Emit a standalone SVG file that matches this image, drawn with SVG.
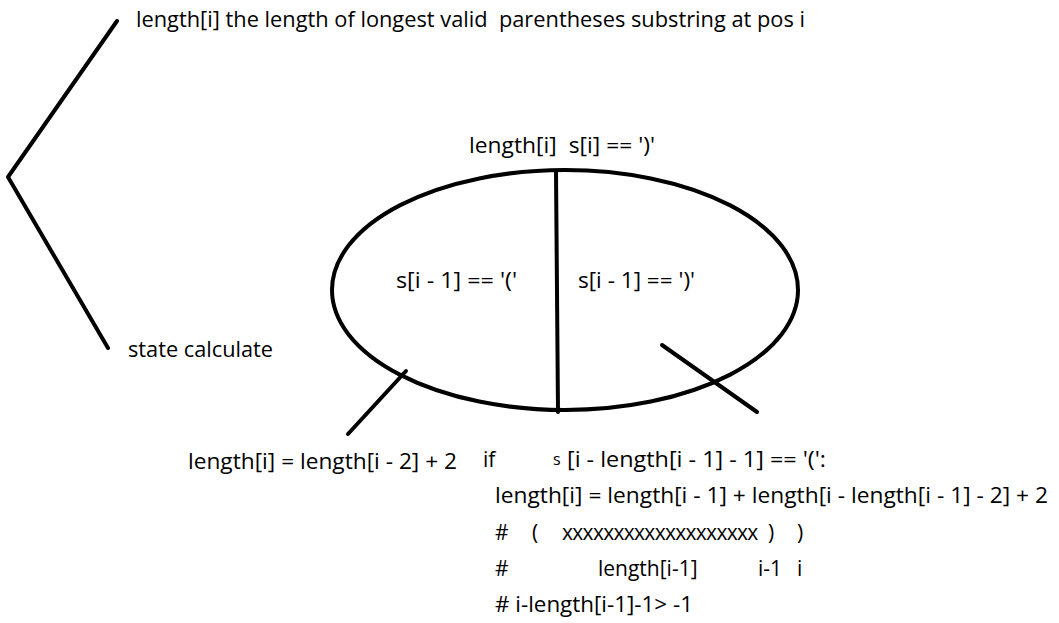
<svg xmlns="http://www.w3.org/2000/svg" width="1059" height="623" viewBox="0 0 1059 623">
<style>
.t{font-family:"Open Sans","Noto Sans","Liberation Sans",sans-serif;font-size:21px;fill:#000}
.ln{stroke:#000;stroke-width:4;fill:none;stroke-linecap:round;stroke-linejoin:round}
</style>
<rect width="1059" height="623" fill="#fff"/>
<g id="connectors">
<polyline class="ln" points="117,21 8,177 108,348"/>
<line class="ln" x1="556" y1="171" x2="558" y2="412"/>
<line class="ln" x1="406" y1="371" x2="348" y2="434"/>
<line class="ln" x1="662" y1="345" x2="757" y2="412"/>
</g>
<g id="node-definition">
<text class="t" x="136" y="27" textLength="669" lengthAdjust="spacingAndGlyphs" xml:space="preserve">length[i] the length of longest valid  parentheses substring at pos i</text>
</g>
<g id="node-state">
<text class="t" x="128" y="357" textLength="145" lengthAdjust="spacingAndGlyphs">state calculate</text>
</g>
<g id="node-ellipse">
<ellipse class="ln" cx="565" cy="290" rx="233" ry="120"/>
<text class="t" x="469" y="153" textLength="186" lengthAdjust="spacingAndGlyphs" xml:space="preserve">length[i]  s[i] == ')'</text>
<text class="t" x="396" y="288" textLength="121" lengthAdjust="spacingAndGlyphs">s[i - 1] == '('</text>
<text class="t" x="578" y="288" textLength="117" lengthAdjust="spacingAndGlyphs">s[i - 1] == ')'</text>
</g>
<g id="node-case1">
<text class="t" x="188" y="469" textLength="269" lengthAdjust="spacingAndGlyphs">length[i] = length[i - 2] + 2</text>
</g>
<g id="node-case2">
<text class="t" x="483" y="467">if</text>
<text class="t" x="553" y="465" style="font-size:16px">s</text>
<text class="t" x="567" y="467" textLength="259" lengthAdjust="spacingAndGlyphs">[i - length[i - 1] - 1] == '(':</text>
<text class="t" x="495" y="503" textLength="553" lengthAdjust="spacingAndGlyphs">length[i] = length[i - 1] + length[i - length[i - 1] - 2] + 2</text>
<text class="t" y="540"><tspan x="495">#</tspan><tspan x="532">(</tspan><tspan x="562" style="letter-spacing:-0.7px">xxxxxxxxxxxxxxxxxxx</tspan><tspan x="768">)</tspan><tspan x="797">)</tspan></text>
<text class="t" y="576"><tspan x="495">#</tspan><tspan x="598">length[i-1]</tspan><tspan x="758">i-1</tspan><tspan x="797">i</tspan></text>
<text class="t" x="495" y="612" textLength="198" lengthAdjust="spacingAndGlyphs"># i-length[i-1]-1&gt; -1</text>
</g>
</svg>
